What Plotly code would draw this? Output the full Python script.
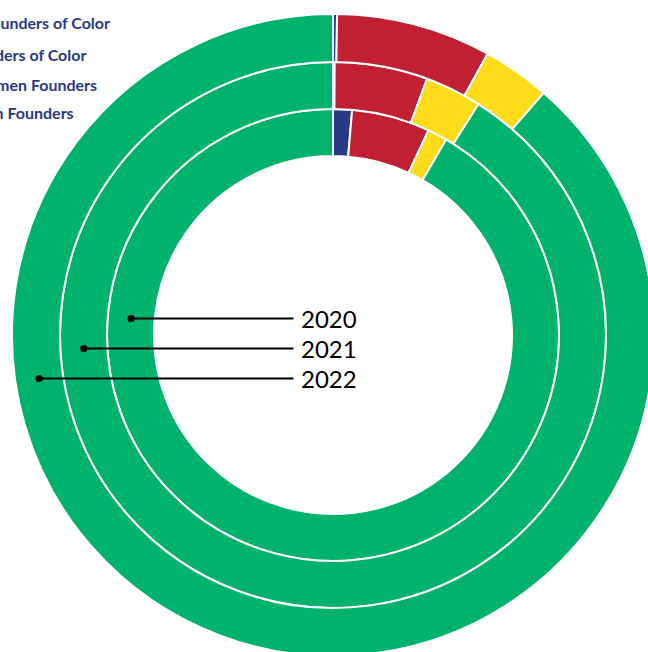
import math
import plotly.graph_objects as go

# ---- data (percent share) ----
categories = ["Women Founders of Color", "Men Founders of Color",
              "White Women Founders", "White Men Founders"]
years = ["2020", "2021", "2022"]
share_2020 = [1.35, 5.6, 1.4, 91.65]
share_2021 = [0.1, 5.5, 3.35, 91.05]
share_2022 = [0.2, 7.8, 3.4, 88.6]
colors = ["#283a85", "#c12033", "#fedc1a", "#00b26b"]

# ---- layout geometry (pixels) ----
W, H = 660, 660
ML, MR, MT, MB = 12, 6, 14, 4
PW = W - ML - MR
PH = H - MT - MB
R_OUT = [226, 273, 321]   # outer radius of ring 2020, 2021, 2022
R_IN = [179, 226, 273]
CX, CY = ML + PW / 2, MT + PH / 2


def px2paper(x, y):
    return (x - ML) / PW, (H - MB - y) / PH


fig = go.Figure()
shares = [share_2020, share_2021, share_2022]
for i, (yr, vals) in enumerate(zip(years, shares)):
    f = R_OUT[i] / R_OUT[2]
    lo, hi = 0.5 - f / 2, 0.5 + f / 2
    fig.add_trace(go.Pie(
        labels=categories, values=vals, name=yr,
        domain=dict(x=[lo, hi], y=[lo, hi]),
        hole=R_IN[i] / R_OUT[i],
        sort=False, direction="clockwise", rotation=0,
        marker=dict(colors=colors, line=dict(color="white", width=2)),
        textinfo="none", hoverinfo="label+value+name",
        showlegend=False,
    ))

# year callouts
label_y = [318.5, 348.5, 378.5]
for i, yr in enumerate(years):
    rm = (R_OUT[i] + R_IN[i]) / 2
    dy = label_y[i] - CY
    dx = -math.sqrt(rm ** 2 - dy ** 2)
    hx, hy = px2paper(CX + dx, label_y[i])
    fig.add_annotation(
        x=hx, y=hy, xref="paper", yref="paper",
        text=yr, showarrow=True,
        ax=(329 - (CX + dx)), ay=0,
        arrowhead=6, arrowsize=0.9, arrowwidth=2, arrowcolor="black",
        startstandoff=6, standoff=0,
        font=dict(family="Lato", size=24, color="black"),
    )

# legend (left part runs off the canvas, as in the reference)
legend_y = [22.5, 55, 84.5, 113]
for name, ly in zip(categories, legend_y):
    lx, lyp = px2paper(-79.5, ly)
    fig.add_annotation(
        x=lx, y=lyp, xref="paper", yref="paper",
        text=name, showarrow=False, xanchor="left", yanchor="middle",
        font=dict(family="Lato", size=16, color="#283a85", weight="bold"),
    )

fig.update_layout(
    width=W, height=H,
    margin=dict(l=ML, r=MR, t=MT, b=MB, autoexpand=False),
    paper_bgcolor="white", plot_bgcolor="white",
    showlegend=False,
)

fig.write_html(
    "out.html",
    config={"displayModeBar": False},
    post_script="document.body.style.margin='0';document.body.style.overflow='hidden';document.documentElement.style.overflow='hidden';",
)
